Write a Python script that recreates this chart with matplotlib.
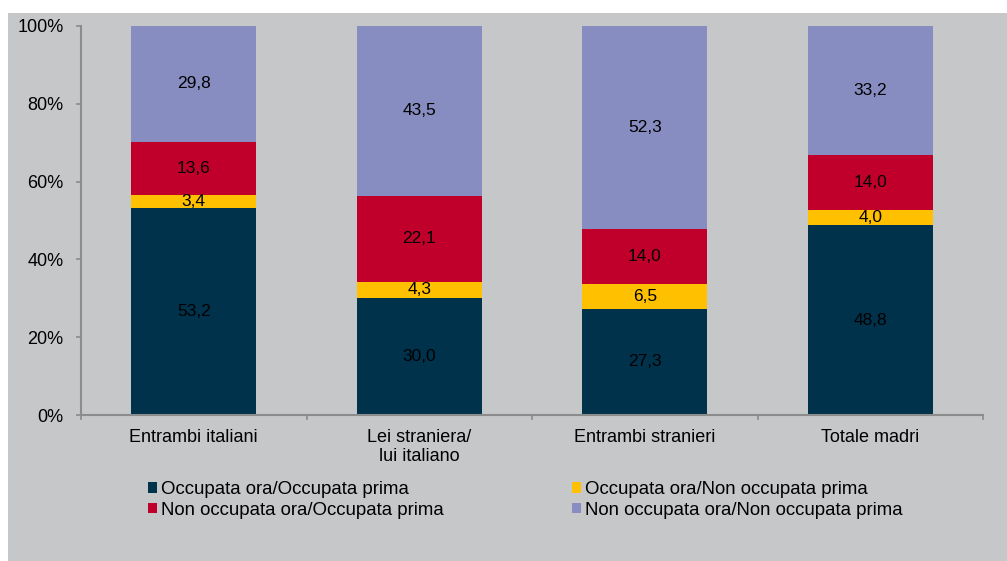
import numpy as np
import matplotlib
matplotlib.use("Agg")
import matplotlib.pyplot as plt
from matplotlib.patches import Rectangle, Patch

plt.rcParams['font.family'] = ['Liberation Sans', 'DejaVu Sans']

categorie = ["Entrambi italiani", "Lei straniera/\nlui italiano", "Entrambi stranieri", "Totale madri"]
serie = ["Occupata ora/Occupata prima", "Occupata ora/Non occupata prima",
         "Non occupata ora/Occupata prima", "Non occupata ora/Non occupata prima"]
occ_occ = [53.2, 30.0, 27.3, 48.8]
occ_nonocc = [3.4, 4.3, 6.5, 4.0]
nonocc_occ = [13.6, 22.1, 14.0, 14.0]
nonocc_nonocc = [29.8, 43.5, 52.3, 33.2]
colori = ["#00324b", "#ffc000", "#c0002a", "#878dc0"]

sfondo = "#c6c7c9"
asse = "#8c8c8c"

fig = plt.figure(figsize=(10.07, 5.61), dpi=100)
fig.patch.set_facecolor("white")
fig.patches.append(Rectangle((8 / 1007, 0), 1, 1 - 13 / 561, transform=fig.transFigure,
                             facecolor=sfondo, edgecolor="none", zorder=-5))

ax = fig.add_axes([81 / 1007, 1 - 415 / 561, (983 - 81) / 1007, (415 - 26) / 561])
ax.set_facecolor(sfondo)

x = np.arange(len(categorie))
dati = [occ_occ, occ_nonocc, nonocc_occ, nonocc_nonocc]
bottom = np.zeros(len(categorie))
for valori, col, nome in zip(dati, colori, serie):
    valori = np.array(valori)
    ax.bar(x, valori, 0.556, bottom=bottom, color=col, label=nome, zorder=2)
    for xi, v, b0 in zip(x, valori, bottom):
        ax.text(xi, b0 + v / 2, f"{v:.1f}".replace(".", ","), ha="center", va="center",
                fontsize=12.5, color="black", zorder=3)
    bottom = bottom + valori

ax.set_xlim(-0.5, 3.5)
ax.set_ylim(0, 100)
ax.set_yticks(np.arange(0, 101, 20))
ax.set_yticklabels([f"{t}%" for t in range(0, 101, 20)], fontsize=13)
ax.set_xticks(x)
ax.set_xticklabels(categorie, fontsize=13)
ax.set_xticks(np.arange(-0.5, 4, 1), minor=True)
ax.tick_params(axis="x", which="major", length=0, pad=10)
ax.tick_params(axis="x", which="minor", length=3.5, color=asse, width=1.2)
ax.tick_params(axis="y", length=3.5, color=asse, width=1.2, pad=9)
for s in ["top", "right"]:
    ax.spines[s].set_visible(False)
for s in ["left", "bottom"]:
    ax.spines[s].set_color(asse)
    ax.spines[s].set_linewidth(1.5)

maniglie = [Patch(facecolor=c, edgecolor="none") for c in colori]
ordine = [0, 2, 1, 3]
fig.legend([maniglie[i] for i in ordine], [serie[i] for i in ordine], ncol=2,
           loc="upper left", bbox_to_anchor=(148 / 1007, 1 - 481 / 561),
           frameon=False, fontsize=13.4, handlelength=0.48, handleheight=0.48,
           handletextpad=0.22, labelspacing=0.2, columnspacing=6.9,
           borderaxespad=0, borderpad=0)

fig.savefig("out.png", dpi=100, facecolor=fig.get_facecolor())
